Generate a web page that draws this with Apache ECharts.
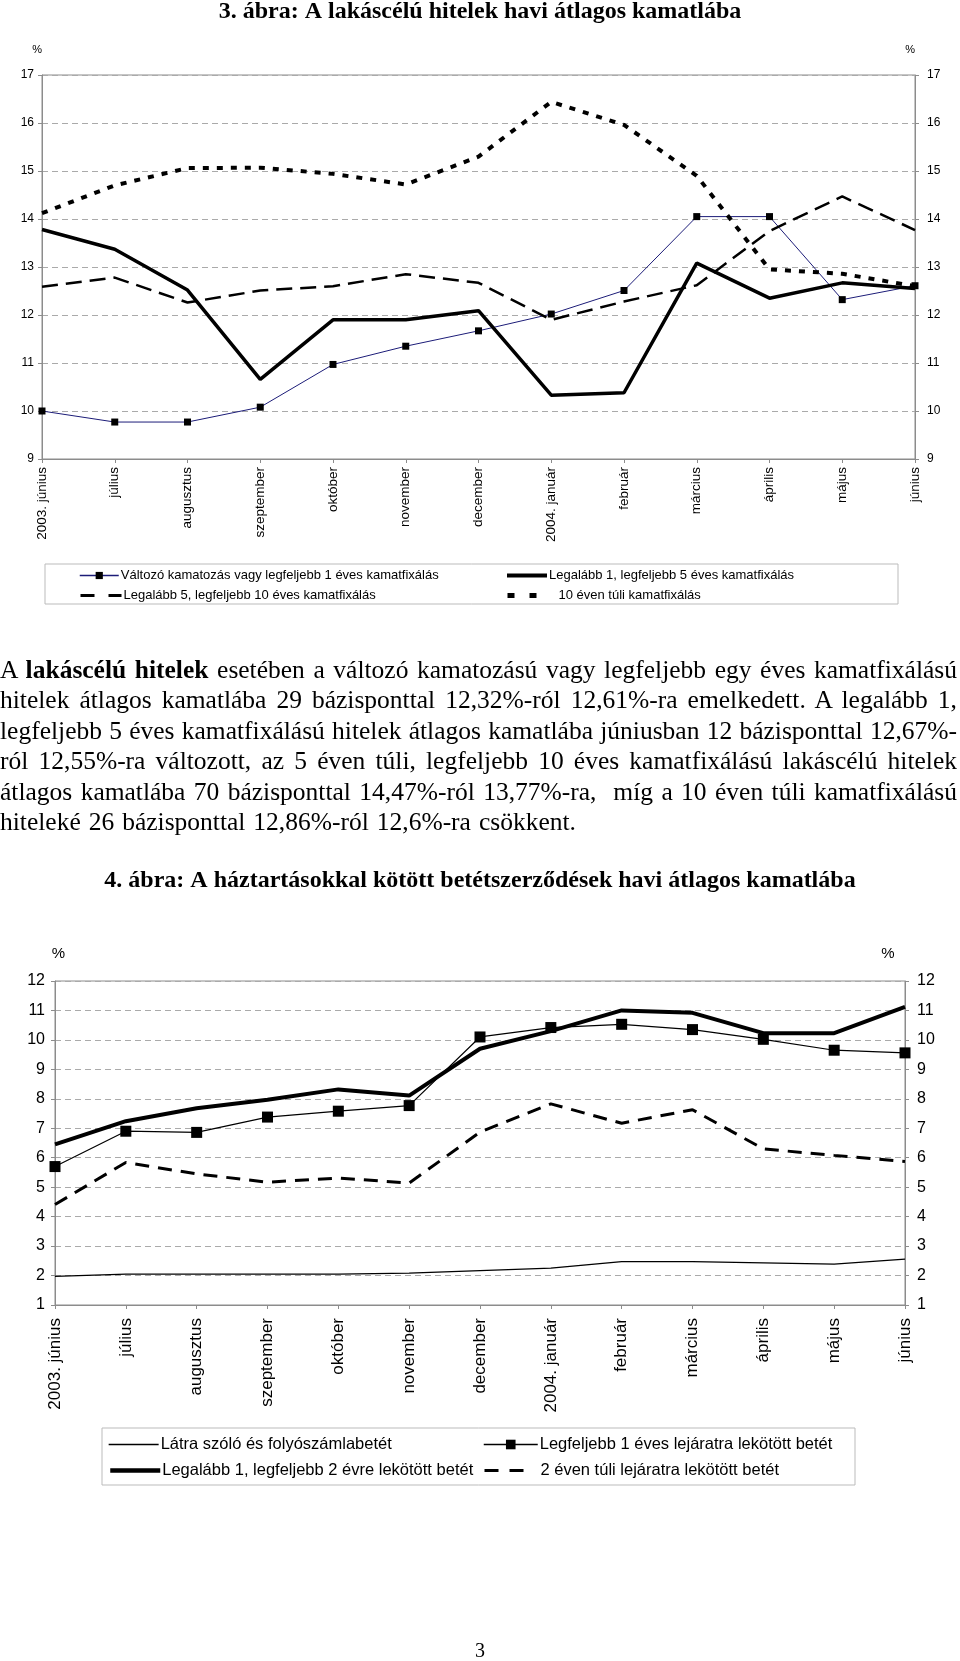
<!DOCTYPE html>
<html>
<head>
<meta charset="utf-8">
<script src="https://cdn.jsdelivr.net/npm/echarts@6/dist/echarts.min.js"></script>
<style>
  body { margin: 0; background: #fff; }
  #page { position: relative; width: 960px; height: 1661px; }
  #chart { position: absolute; left: 0; top: 0; width: 960px; height: 1661px; }
  #szoveg { position: absolute; left: 0; top: 655px; width: 957px;
    font-family: 'Liberation Serif', serif; font-size: 25.5px; line-height: 30.4px; color: #000; }
  #szoveg div { text-align: justify; text-align-last: justify; white-space: nowrap; }
  #szoveg div.utolso { text-align-last: left; word-spacing: 1.6px; }
  #oldal { position: absolute; left: 0; width: 960px; top: 1639px; text-align: center;
    font-family: 'Liberation Serif', serif; font-size: 20px; }
</style>
</head>
<body>
<div id="page">
  <div id="chart"></div>
  <div id="szoveg">
    <div>A <b>lakáscélú hitelek</b> esetében a változó kamatozású vagy legfeljebb egy éves kamatfixálású</div>
    <div>hitelek átlagos kamatlába 29 bázisponttal 12,32%-ról 12,61%-ra emelkedett. A legalább 1,</div>
    <div>legfeljebb 5 éves kamatfixálású hitelek átlagos kamatlába júniusban 12 bázisponttal 12,67%-</div>
    <div>ról 12,55%-ra változott, az 5 éven túli, legfeljebb 10 éves kamatfixálású lakáscélú hitelek</div>
    <div>átlagos kamatlába 70 bázisponttal 14,47%-ról 13,77%-ra, &nbsp;míg a 10 éven túli kamatfixálású</div>
    <div class="utolso">hiteleké 26 bázisponttal 12,86%-ról 12,6%-ra csökkent.</div>
  </div>
  <div id="oldal">3</div>
</div>
<script>
// honapok (mindket abra)
var honapok = ['2003. június', 'július', 'augusztus', 'szeptember', 'október', 'november',
  'december', '2004. január', 'február', 'március', 'április', 'május', 'június'];

// 3. abra - lakascelu hitelek
var valtozo = [10.0, 9.77, 9.77, 10.08, 10.97, 11.35, 11.67, 12.02, 12.51, 14.05, 14.05, 12.32, 12.61];
var legalabb1_5 = [13.78, 13.37, 12.52, 10.66, 11.90, 11.90, 12.09, 10.33, 10.38, 13.08, 12.35, 12.67, 12.55];
var legalabb5_10 = [12.59, 12.78, 12.26, 12.51, 12.60, 12.85, 12.67, 11.90, 12.28, 12.62, 13.75, 14.47, 13.77];
var tul10 = [14.12, 14.70, 15.06, 15.07, 14.94, 14.72, 15.30, 16.44, 15.96, 14.90, 12.95, 12.86, 12.60];

// 4. abra - betetek
var latra = [1.97, 2.05, 2.05, 2.05, 2.05, 2.08, 2.17, 2.25, 2.47, 2.47, 2.43, 2.39, 2.56];
var legf1 = [5.70, 6.90, 6.86, 7.38, 7.58, 7.77, 10.10, 10.42, 10.53, 10.35, 10.02, 9.65, 9.56];
var legal1_2 = [6.45, 7.24, 7.68, 7.97, 8.32, 8.11, 9.70, 10.30, 11.0, 10.92, 10.23, 10.23, 11.12];
var tul2 = [4.41, 5.84, 5.45, 5.17, 5.31, 5.14, 6.87, 7.83, 7.17, 7.63, 6.30, 6.08, 5.87];

var betu = 'Liberation Sans';
var szurke = '#8c8c8c';

function xTengely(grid, meret, margo) {
  return {
    type: 'category', gridIndex: grid, data: honapok, boundaryGap: false,
    axisLine: { lineStyle: { color: szurke } },
    axisTick: { length: 4, lineStyle: { color: szurke } },
    axisLabel: { rotate: 90, interval: 0, color: '#000', fontFamily: betu, fontSize: meret, margin: margo },
    splitLine: { show: false }
  };
}
function yTengely(grid, min, max, hely, meret, margo, nevMeret, nevPad, nevIgazit) {
  return {
    type: 'value', gridIndex: grid, min: min, max: max, interval: 1, position: hely,
    name: '%', nameLocation: 'end', nameGap: 20,
    nameTextStyle: { color: '#000', fontFamily: betu, fontSize: nevMeret, padding: nevPad, align: nevIgazit },
    axisLine: { show: true, lineStyle: { color: szurke } },
    axisTick: { show: true, length: 4, lineStyle: { color: szurke } },
    axisLabel: { color: '#000', fontFamily: betu, fontSize: meret, margin: margo },
    splitLine: { show: hely === 'left', lineStyle: { color: '#aaa', type: [6, 4] } }
  };
}
// egy jelmagyarazat-elem: vonal (+ jel) es felirat
function jelmagyarazat(nev, x, y, meret, szel, magas, vonal, jel, szovegPad) {
  return {
    data: [nev], left: x, top: y, itemWidth: szel, itemHeight: magas, selectedMode: false, padding: 0,
    lineStyle: vonal,
    itemStyle: jel ? {} : { opacity: 0 },
    textStyle: { fontFamily: betu, fontSize: meret, color: '#000', padding: [0, 0, 0, szovegPad] }
  };
}

var chart = echarts.init(document.getElementById('chart'));
var option = {
  animation: false,
  title: [
    { text: '3. ábra: A lakáscélú hitelek havi átlagos kamatlába', left: 'center', top: 0, padding: 0,
      textStyle: { fontFamily: 'Liberation Serif', fontWeight: 'bold', fontSize: 24, color: '#000' } },
    { text: '4. ábra: A háztartásokkal kötött betétszerződések havi átlagos kamatlába', left: 'center', top: 869, padding: 0,
      textStyle: { fontFamily: 'Liberation Serif', fontWeight: 'bold', fontSize: 24, color: '#000' } }
  ],
  grid: [
    { left: 42, top: 75, width: 873, height: 384, show: true, borderColor: szurke, borderWidth: 1 },
    { left: 55, top: 981, width: 850, height: 324, show: true, borderColor: szurke, borderWidth: 1 }
  ],
  xAxis: [xTengely(0, 13.5, 8), xTengely(1, 17, 13)],
  yAxis: [
    yTengely(0, 9, 17, 'left', 12, 8, 11, 0, 'right'),
    yTengely(0, 9, 17, 'right', 12, 12, 11, 0, 'right'),
    yTengely(1, 1, 12, 'left', 16, 10, 15, [0, 0, 0, 7], 'center'),
    yTengely(1, 1, 12, 'right', 16, 12, 15, [0, 34, 0, 0], 'center')
  ],
  legend: [
    jelmagyarazat('Változó kamatozás vagy legfeljebb 1 éves kamatfixálás', 79, 569, 13, 39, 9,
      { width: 1.5 }, true, -3),
    jelmagyarazat('Legalább 1, legfeljebb 5 éves kamatfixálás', 505, 569, 13, 40, 9,
      { width: 4 }, false, -3),
    jelmagyarazat('Legalább 5, legfeljebb 10 éves kamatfixálás', 79, 589, 13, 41, 9,
      { width: 3, type: [14, 14] }, false, -3),
    jelmagyarazat('10 éven túli kamatfixálás', 505, 589, 13, 29, 9,
      { width: 5, type: [7, 15] }, false, 17),
    jelmagyarazat('Látra szóló és folyószámlabetét', 108, 1436, 16.5, 50, 12,
      { width: 1.3 }, false, -3),
    jelmagyarazat('Legfeljebb 1 éves lejáratra lekötött betét', 483, 1436, 16.5, 54, 12,
      { width: 1.5 }, true, -3),
    jelmagyarazat('Legalább 1, legfeljebb 2 évre lekötött betét', 108, 1462, 16.5, 50, 12,
      { width: 4.5 }, false, -3),
    jelmagyarazat('2 éven túli lejáratra lekötött betét', 483, 1462, 16.5, 40, 12,
      { width: 3, type: [14, 11] }, false, 11)
  ],
  graphic: [
    { type: 'rect', shape: { x: 45, y: 564, width: 853, height: 40 },
      style: { fill: 'none', stroke: '#bbb', lineWidth: 1 } },
    { type: 'rect', shape: { x: 102, y: 1428, width: 753, height: 57 },
      style: { fill: 'none', stroke: '#bbb', lineWidth: 1 } }
  ],
  series: [
    { name: 'Változó kamatozás vagy legfeljebb 1 éves kamatfixálás', type: 'line', data: valtozo,
      xAxisIndex: 0, yAxisIndex: 0, symbol: 'rect', symbolSize: 7,
      lineStyle: { color: '#1c1c78', width: 1 }, itemStyle: { color: '#000' } },
    { name: 'Legalább 1, legfeljebb 5 éves kamatfixálás', type: 'line', data: legalabb1_5,
      xAxisIndex: 0, yAxisIndex: 0, symbol: 'none',
      lineStyle: { color: '#000', width: 3.5 }, itemStyle: { color: '#000' } },
    { name: 'Legalább 5, legfeljebb 10 éves kamatfixálás', type: 'line', data: legalabb5_10,
      xAxisIndex: 0, yAxisIndex: 0, symbol: 'none',
      lineStyle: { color: '#000', width: 2.5, type: [16, 8] }, itemStyle: { color: '#000' } },
    { name: '10 éven túli kamatfixálás', type: 'line', data: tul10,
      xAxisIndex: 0, yAxisIndex: 0, symbol: 'none',
      lineStyle: { color: '#000', width: 4, type: [6, 8] }, itemStyle: { color: '#000' } },

    { name: 'Látra szóló és folyószámlabetét', type: 'line', data: latra,
      xAxisIndex: 1, yAxisIndex: 2, symbol: 'none',
      lineStyle: { color: '#000', width: 1.2 }, itemStyle: { color: '#000' } },
    { name: 'Legfeljebb 1 éves lejáratra lekötött betét', type: 'line', data: legf1,
      xAxisIndex: 1, yAxisIndex: 2, symbol: 'rect', symbolSize: 11,
      lineStyle: { color: '#000', width: 1.2 }, itemStyle: { color: '#000' } },
    { name: 'Legalább 1, legfeljebb 2 évre lekötött betét', type: 'line', data: legal1_2,
      xAxisIndex: 1, yAxisIndex: 2, symbol: 'none',
      lineStyle: { color: '#000', width: 4 }, itemStyle: { color: '#000' } },
    { name: '2 éven túli lejáratra lekötött betét', type: 'line', data: tul2,
      xAxisIndex: 1, yAxisIndex: 2, symbol: 'none',
      lineStyle: { color: '#000', width: 3, type: [14, 9] }, itemStyle: { color: '#000' } }
  ]
};
chart.setOption(option);
</script>
</body>
</html>
